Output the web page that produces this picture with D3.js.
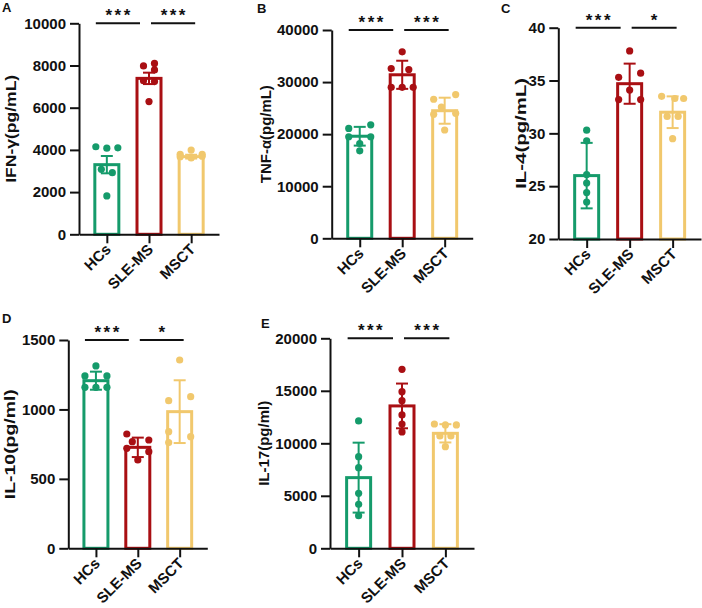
<!DOCTYPE html>
<html>
<head>
<meta charset="utf-8">
<script src="https://cdn.jsdelivr.net/npm/d3@7"></script>
<style>
  body { margin: 0; background: #fff; }
  text { font-family: "Liberation Sans", Arial, sans-serif; font-weight: bold; fill: #111; }
</style>
</head>
<body>
<div id="container"></div>
<script>
const groups = ["HCs", "SLE-MS", "MSCT"];
const panelLetters = ["A", "B", "C", "D", "E"];
const yTitles = ["IFN-γ(pg/mL)", "TNF-α(pg/mL)", "IL-4(pg/mL)", "IL-10(pg/ml)", "IL-17(pg/ml)"];
const yDomains = [[0, 10000], [0, 40000], [20, 40], [0, 1500], [0, 20000]];
const yTicks = [
	[0, 2000, 4000, 6000, 8000, 10000],
	[0, 10000, 20000, 30000, 40000],
	[20, 25, 30, 35, 40],
	[0, 500, 1000, 1500],
	[0, 5000, 10000, 15000, 20000]
];
// bar heights (mean) and error (SEM / SD as drawn)
const means = [
	[3300, 7390, 3680],
	[19600, 31400, 24500],
	[26.0, 34.7, 32.0],
	[1207, 727, 984],
	[6730, 13560, 10950]
];
const errors = [
	[410, 270, 90],
	[1800, 2700, 2500],
	[3.1, 1.9, 1.5],
	[65, 70, 226],
	[3330, 2130, 870]
];
// individual samples per panel / group
const points = [
	[[4150, 4080, 4100, 3080, 2920, 1820], [7980, 8100, 7790, 7280, 7240, 6290], [3790, 3990, 3790, 3680, 3700, 3620]],
	[[21100, 21800, 19500, 19500, 18200, 16800], [35800, 32600, 32400, 29000, 29000, 29000], [26700, 27600, 25200, 23800, 24000, 20800]],
	[[30.3, 29.3, 26.1, 25.3, 24.4, 23.5], [37.8, 35.3, 35.7, 34.1, 33.2, 33.2], [33.5, 33.3, 33.3, 31.6, 31.6, 29.5]],
	[[1313, 1241, 1241, 1159, 1159, 1159], [823, 780, 768, 720, 696, 636], [1356, 1063, 1092, 840, 804, 761]],
	[[12130, 8730, 7680, 5240, 4190, 3110], [17050, 14920, 14060, 12700, 11840, 11080], [11840, 11750, 11750, 10700, 10700, 9680]]
];
// horizontal column of each sample (scatter spread)
const slots = [
	[[-1, 0, 1, -0.5, 0.5, 0], [-0.5, 0.5, 0.5, -0.5, 0.5, 0], [-1, 0, 1, -1, 1, 0]],
	[[-1, 1, -1, 1, 0, 0], [0, -1, 0.6, -1, 0, 1], [-1, 1, -0.3, -1, 1, 0]],
	[[0, 0, 0, 0, 0, 0], [0, -1, 1, 0, -1, 1], [-1, 0.2, 1, -0.5, 0.5, 0]],
	[[0, -1, 1, -1, 0, 1], [-1, 1, -0.5, -1, 1, 0], [0, -1, 1, -1, 1, -1]],
	[[0, 0, 0, 0, 0, 0], [0, 0, 0, 0, 0, 0], [-1, 0, 1, -0.5, 0.5, 0]]
];
const sigLabels = [["***", "***"], ["***", "***"], ["***", "*"], ["***", "*"], ["***", "***"]];

const colors = ["#159b6b", "#a90f13", "#f1c86d"];

// panel placement on the page
const layout = [
	{x0: 79,    x1: 219,   y0: 234.3, y1: 23.3,  tx: 16,    titleLen: 108, lx: 2,   ly: 12},
	{x0: 331.7, x1: 472.7, y0: 238.3, y1: 30,    tx: 270.5, titleLen: 98,  lx: 257, ly: 13},
	{x0: 558.3, x1: 701,   y0: 239,   y1: 27.7,  tx: 525.5, titleLen: 111, lx: 501, ly: 13},
	{x0: 68.3,  x1: 207.3, y0: 548.3, y1: 340,   tx: 15,    titleLen: 110, lx: 2,   ly: 323},
	{x0: 330,   x1: 474,   y0: 548.3, y1: 338.3, tx: 268.5, titleLen: 85,  lx: 261, ly: 328}
];

const svg = d3.select("#container").append("svg")
	.attr("width", 702)
	.attr("height", 608);

layout.forEach(function(L, i) {
	const g = svg.append("g");

	const xScale = d3.scalePoint()
		.domain(groups)
		.range([L.x0, L.x1])
		.padding(0.66);
	const yScale = d3.scaleLinear()
		.domain(yDomains[i])
		.range([L.y0, L.y1]);
	const step = 11;

	// bars
	g.selectAll("rect.bar").data(groups)
		.enter().append("rect")
		.attr("class", "bar")
		.attr("x", d => xScale(d) - 12)
		.attr("y", (d, j) => yScale(means[i][j]))
		.attr("width", 24)
		.attr("height", (d, j) => L.y0 - yScale(means[i][j]))
		.attr("fill", "#fff")
		.attr("stroke", (d, j) => colors[j])
		.attr("stroke-width", 3);

	// dots + error bars
	groups.forEach(function(grp, j) {
		g.selectAll(null).data(points[i][j])
			.enter().append("circle")
			.attr("cx", (v, k) => xScale(grp) + slots[i][j][k] * step)
			.attr("cy", v => yScale(v))
			.attr("r", 3.6)
			.attr("fill", colors[j]);

		const m = means[i][j], e = errors[i][j];
		const cx = xScale(grp);
		const eb = g.append("g")
			.attr("stroke", colors[j])
			.attr("stroke-width", 2);
		eb.append("line")
			.attr("x1", cx).attr("x2", cx)
			.attr("y1", yScale(m - e)).attr("y2", yScale(m + e));
		[m - e, m + e].forEach(function(v) {
			eb.append("line")
				.attr("x1", cx - 6).attr("x2", cx + 6)
				.attr("y1", yScale(v)).attr("y2", yScale(v));
		});
	});

	// axes
	const yAxis = d3.axisLeft(yScale)
		.tickValues(yTicks[i])
		.tickFormat(d3.format("d"))
		.tickSize(9)
		.tickSizeOuter(0)
		.tickPadding(4);
	const xAxis = d3.axisBottom(xScale)
		.tickSize(9)
		.tickSizeOuter(0)
		.tickFormat("");

	const ya = g.append("g")
		.attr("transform", `translate(${L.x0},0)`)
		.call(yAxis);
	const xa = g.append("g")
		.attr("transform", `translate(0,${L.y0})`)
		.call(xAxis);
	[ya, xa].forEach(function(a) {
		a.select(".domain").attr("stroke", "#111").attr("stroke-width", 2);
		a.selectAll(".tick line").attr("stroke", "#111").attr("stroke-width", 2);
	});
	ya.selectAll(".tick text")
		.attr("fill", "#111")
		.style("font-size", "15px")
		.style("font-family", "'Liberation Sans', Arial, sans-serif")
		.style("font-weight", "bold");

	// category labels
	g.selectAll("text.cat").data(groups)
		.enter().append("text")
		.attr("class", "cat")
		.attr("text-anchor", "end")
		.attr("transform", d => `translate(${xScale(d) + 5},${L.y0 + 16}) rotate(-45)`)
		.style("font-size", "15px")
		.text(d => d);

	// y title
	g.append("text")
		.attr("text-anchor", "middle")
		.attr("transform", `translate(${L.tx},${(L.y0 + L.y1) / 2}) rotate(-90)`)
		.attr("textLength", L.titleLen)
		.attr("lengthAdjust", "spacingAndGlyphs")
		.style("font-size", "15.5px")
		.text(yTitles[i]);

	// panel letter
	g.append("text")
		.attr("x", L.lx)
		.attr("y", L.ly)
		.style("font-size", "13px")
		.text(panelLetters[i]);

	// significance brackets
	const spans = [
		[xScale(groups[0]) - 11, xScale(groups[1]) - 9],
		[xScale(groups[1]) + 2, xScale(groups[2]) + 4]
	];
	spans.forEach(function(s, k) {
		g.append("line")
			.attr("x1", s[0]).attr("x2", s[1])
			.attr("y1", L.y1).attr("y2", L.y1)
			.attr("stroke", "#111")
			.attr("stroke-width", 2);
		g.append("text")
			.attr("x", (s[0] + s[1]) / 2 + 1.25)
			.attr("y", L.y1 - 2)
			.attr("text-anchor", "middle")
			.style("font-size", "17px")
			.style("letter-spacing", "2.5px")
			.text(sigLabels[i][k]);
	});
});
</script>
</body>
</html>
